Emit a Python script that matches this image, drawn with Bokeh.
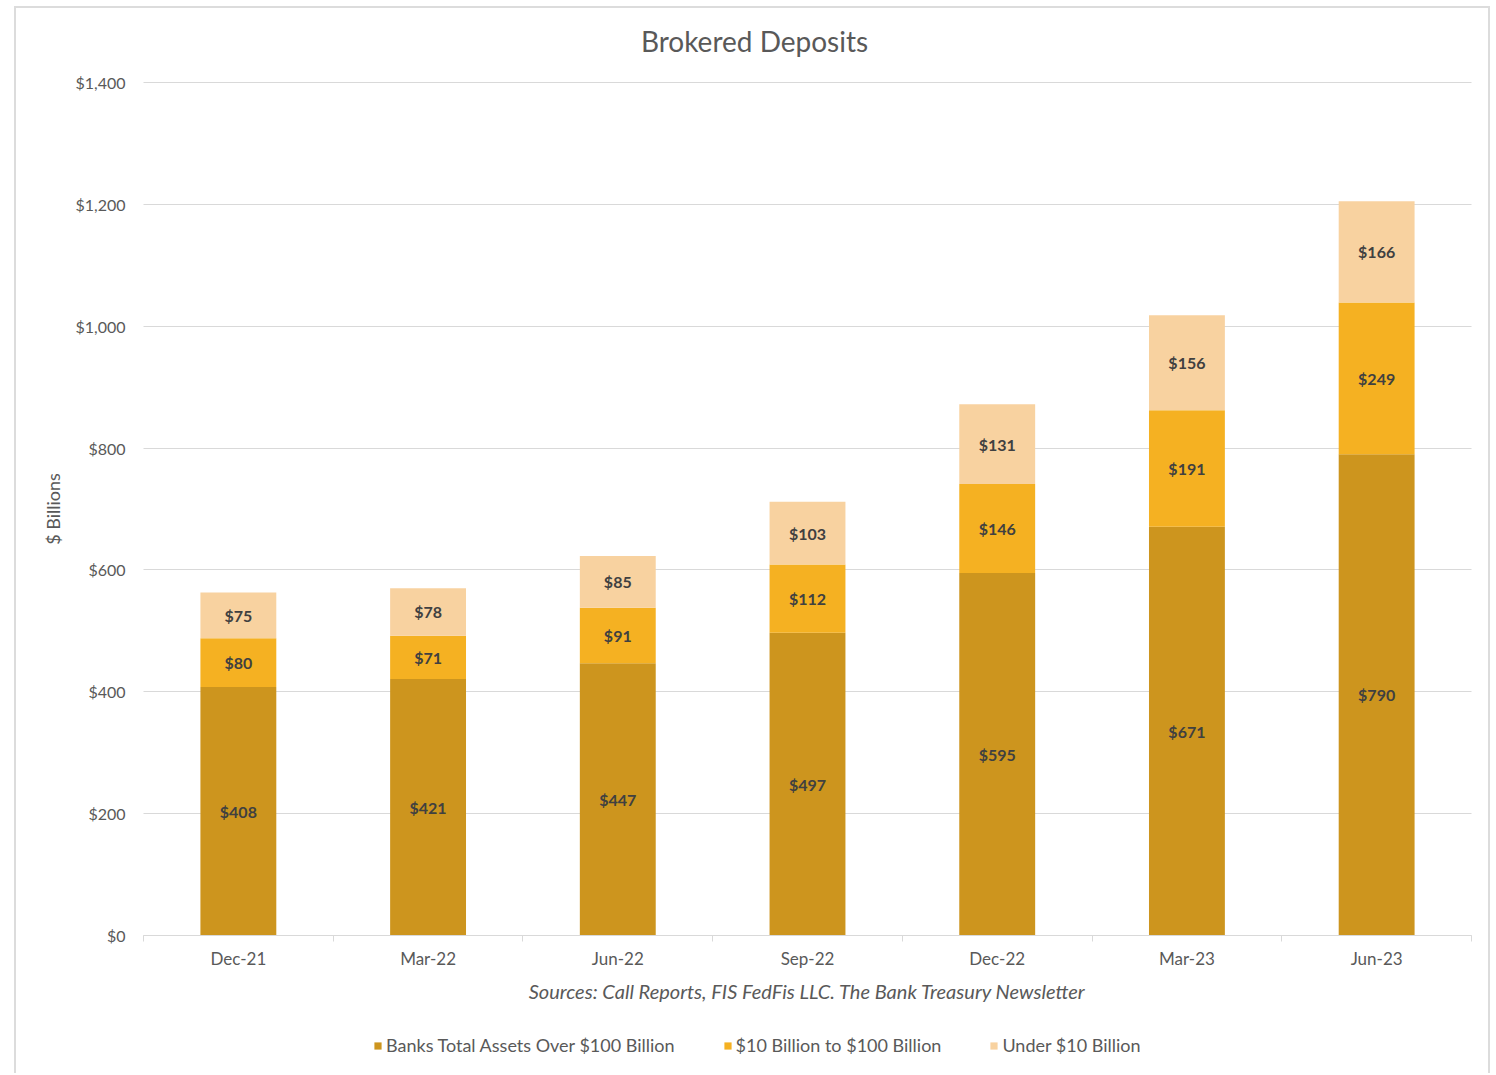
from bokeh.plotting import figure
from bokeh.models import (ColumnDataSource, FixedTicker, Legend, LegendItem, Label, Grid,
                          NumeralTickFormatter, Range1d)
from bokeh.core.properties import value
from bokeh.embed import file_html
from bokeh.resources import INLINE

categories = ["Dec-21", "Mar-22", "Jun-22", "Sep-22", "Dec-22", "Mar-23", "Jun-23"]
over_100b = [408, 421, 447, 497, 595, 671, 790]
b10_to_100b = [80, 71, 91, 112, 146, 191, 249]
under_10b = [75, 78, 85, 103, 131, 156, 166]
series_names = ["Banks Total Assets Over $100 Billion", "$10 Billion to $100 Billion", "Under $10 Billion"]
colors = ["#CD951E", "#F5B122", "#F8D2A0"]
y_ticks = [0, 200, 400, 600, 800, 1000, 1200, 1400]

FONT = "Lato"
TXT = "#595959"

n = len(categories)
xc = [i + 0.5 for i in range(n)]
series = [over_100b, b10_to_100b, under_10b]

# ---- layout geometry (pixels inside the canvas) ----
W, H = 1476, 1067
PLOT_L, PLOT_R = 127, 1455     # x pixel of first / last category boundary
PLOT_B, PLOT_T = 927, 74       # y pixel of value 0 / value 1400
ymax = y_ticks[-1]
sx = (PLOT_R - PLOT_L) / n
sy = (PLOT_B - PLOT_T) / ymax
x_range = Range1d(-PLOT_L / sx, n + (W - PLOT_R) / sx)
y_range = Range1d(-(H - PLOT_B) / sy, ymax + PLOT_T / sy)

p = figure(width=W, height=H, x_range=x_range, y_range=y_range,
           output_backend="svg", toolbar_location=None,
           min_border_left=0, min_border_right=0, min_border_top=0, min_border_bottom=0)
p.styles = {"margin-left": "14px", "margin-top": "6px",
            "border-left": "2px solid #dcdcdc", "border-top": "2px solid #dcdcdc",
            "border-right": "2px solid #dcdcdc"}
p.outline_line_color = None
p.background_fill_color = "white"
p.border_fill_color = "white"

# ---- grid ----
p.xgrid.visible = False
if "cross_bounds" in Grid.properties():
    p.ygrid.ticker = FixedTicker(ticks=y_ticks)
    p.ygrid.cross_bounds = (0, n)
    p.ygrid.grid_line_color = "#d9d9d9"
    p.ygrid.grid_line_width = 1
else:
    p.ygrid.visible = False
    p.segment(x0=[0] * len(y_ticks), x1=[n] * len(y_ticks), y0=y_ticks, y1=y_ticks,
              line_color="#d9d9d9", line_width=1)

# ---- stacked bars ----
renderers = []
bottom = [0] * n
for vals, col in zip(series, colors):
    top = [b + v for b, v in zip(bottom, vals)]
    src = ColumnDataSource(dict(x=xc, bottom=bottom, top=top, mid=[(b + t) / 2 for b, t in zip(bottom, top)],
                                lab=[f"${v}" for v in vals]))
    r = p.vbar(x="x", bottom="bottom", top="top", width=0.4, source=src,
               fill_color=col, line_color=None)
    renderers.append(r)
    p.text(x="x", y="mid", text="lab", source=src, text_align="center", text_baseline="middle",
           text_font=value(FONT), text_font_size="16px", text_font_style="bold", text_color="#404040")
    bottom = top

# ---- axes (fixed inside the canvas) ----
xa = p.xaxis[0]
xa.fixed_location = 0
xa.bounds = (0, n)
xa.ticker = FixedTicker(ticks=xc, minor_ticks=list(range(n + 1)))
xa.major_label_overrides = {x: c for x, c in zip(xc, categories)}
xa.major_tick_line_color = None
xa.major_tick_in = 0
xa.major_tick_out = 0
xa.minor_tick_line_color = "#d9d9d9"
xa.minor_tick_in = 0
xa.minor_tick_out = 6
xa.axis_line_color = "#d9d9d9"
xa.major_label_standoff = 6
xa.major_label_text_font = FONT
xa.major_label_text_font_size = "17px"
xa.major_label_text_color = TXT

ya = p.yaxis[0]
ya.fixed_location = 0
ya.bounds = (0, ymax)
ya.ticker = FixedTicker(ticks=y_ticks)
ya.formatter = NumeralTickFormatter(format="$0,0")
ya.axis_line_color = None
ya.major_tick_line_color = None
ya.major_tick_in = 0
ya.major_tick_out = 0
ya.minor_tick_line_color = None
ya.major_label_standoff = 18
ya.major_label_text_font = FONT
ya.major_label_text_font_size = "16px"
ya.major_label_text_color = TXT
ya.axis_label = "$ Billions"
ya.axis_label_standoff = 8
ya.axis_label_text_font = FONT
ya.axis_label_text_font_size = "18px"
ya.axis_label_text_font_style = "normal"
ya.axis_label_text_color = TXT

# ---- title and source line (screen units from canvas bottom-left) ----
p.add_layout(Label(x=738, y=H - 32, x_units="screen", y_units="screen", text="Brokered Deposits",
                   text_align="center", text_baseline="middle", text_font=FONT,
                   text_font_size="28px", text_color=TXT))
p.add_layout(Label(x=791, y=H - 982, x_units="screen", y_units="screen",
                   text="Sources: Call Reports, FIS FedFis LLC. The Bank Treasury Newsletter",
                   text_align="center", text_baseline="middle", text_font=FONT,
                   text_font_size="20px", text_font_style="italic", text_color=TXT))

legend = Legend(items=[LegendItem(label=nm, renderers=[r]) for nm, r in zip(series_names, renderers)],
                orientation="horizontal", location=(357, 19), padding=0, margin=0, spacing=48,
                glyph_width=9, glyph_height=9, label_standoff=4,
                label_text_font=FONT, label_text_font_size="18px", label_text_color=TXT,
                border_line_color=None, background_fill_alpha=0)
p.add_layout(legend, "center")

open("out.html", "w").write(file_html(p, INLINE))
